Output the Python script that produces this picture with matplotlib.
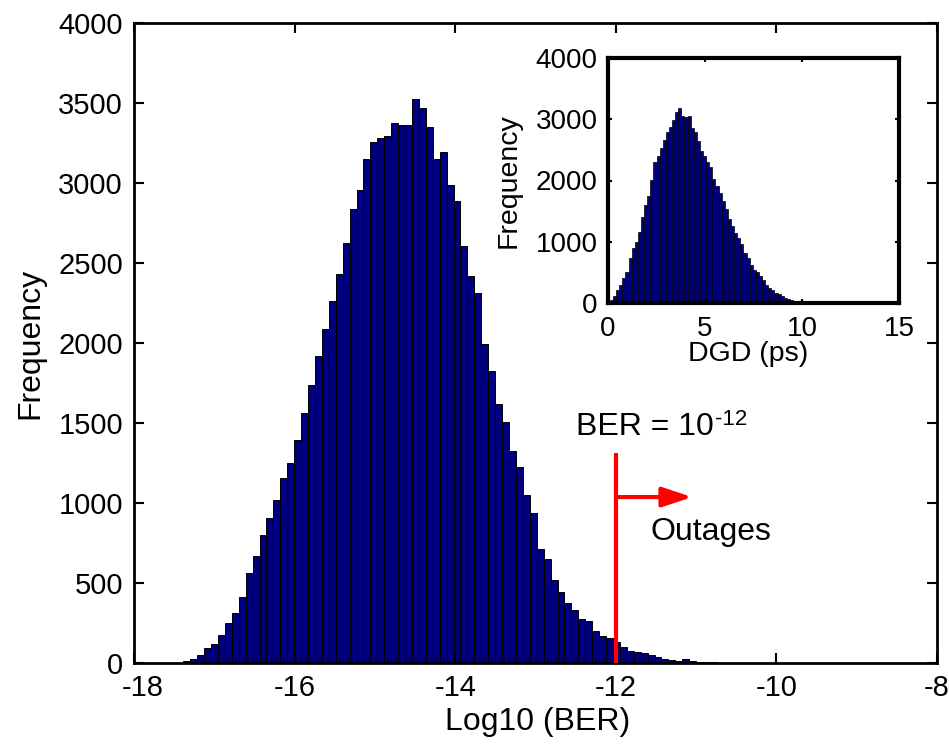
import numpy as np
import matplotlib
matplotlib.use("Agg")
import matplotlib.pyplot as plt
from matplotlib.transforms import ScaledTranslation

plt.rcParams['font.family'] = ['Liberation Sans', 'DejaVu Sans']
plt.rcParams['axes.unicode_minus'] = False

# ---- main histogram data: log10(BER) ----
ber_bin_start = -17.386
ber_bin_width = 0.0863
ber_counts = [12, 24, 50, 96, 118, 173, 248, 310, 413, 560,
              668, 800, 909, 1017, 1154, 1250, 1394, 1563, 1738, 1921,
              2087, 2260, 2433, 2625, 2839, 2957, 3147, 3257, 3284, 3293,
              3378, 3363, 3363, 3524, 3469, 3351, 3147, 3193, 2988, 2887,
              2608, 2418, 2310, 1993, 1825, 1620, 1505, 1325, 1226, 1048,
              935, 714, 647, 517, 442, 377, 329, 274, 260, 202,
              171, 154, 130, 100, 75, 70, 62, 52, 38, 27,
              18, 14, 26, 12, 8, 5, 4, 3, 2, 1]
main_xticks = [-18, -16, -14, -12, -10, -8]
main_yticks = [0, 500, 1000, 1500, 2000, 2500, 3000, 3500, 4000]

# ---- inset histogram data: DGD (ps) ----
dgd_bin_start = 0.1
dgd_bin_width = 0.16
dgd_counts = [44, 109, 208, 300, 404, 503, 738, 902, 994, 1158,
              1410, 1595, 1748, 2011, 2295, 2393, 2530, 2666, 2797, 2880,
              2994, 3125, 3191, 3060, 3043, 3060, 2863, 2787, 2650, 2481,
              2404, 2295, 2213, 2022, 1912, 1803, 1667, 1530, 1366, 1257,
              1147, 1065, 956, 820, 727, 628, 546, 503, 440, 370,
              300, 250, 210, 170, 140, 110, 85, 70, 50, 40,
              30, 22, 15, 10, 8, 5]
inset_xticks = [0, 5, 10, 15]
inset_yticks = [0, 1000, 2000, 3000, 4000]

threshold = -12
bar_color = '#00007f'

fig = plt.figure(figsize=(9.49, 7.45), dpi=100)
ax = fig.add_axes([134/949, 1 - 663/745, (937-134)/949, (663-23)/745])

ber_edges = ber_bin_start + ber_bin_width * np.arange(len(ber_counts))
ax.bar(ber_edges, ber_counts, width=ber_bin_width, align='edge',
       color=bar_color, edgecolor='black', linewidth=0.7)
ax.set_xlim(-18, -8)
ax.set_ylim(0, 4000)
ax.set_xticks(main_xticks)
ax.set_yticks(main_yticks)
ax.tick_params(direction='in', length=7, width=1.5, labelsize=21,
               top=True, right=True)
ax.tick_params(axis='x', pad=8)
ax.tick_params(axis='y', pad=8)
for s in ax.spines.values():
    s.set_linewidth(2)
ax.set_xlabel('Log10 (BER)', fontsize=23)
ax.set_ylabel('Frequency', fontsize=23)
ax.xaxis.set_label_coords(0.5025, -0.068)
ax.yaxis.set_label_coords(-0.110, 0.5)

# nudge the first x tick label so it does not collide with the "0" y label
first = ax.xaxis.get_major_ticks()[0].label1
first.set_transform(first.get_transform() + ScaledTranslation(6/72, 0, fig.dpi_scale_trans))

# threshold line and arrow
ax.plot([threshold, threshold], [0, 1312], color='red', lw=3, solid_capstyle='butt', zorder=5)
ax.annotate('', xy=(-11.05, 1037), xytext=(threshold, 1037),
            arrowprops=dict(arrowstyle='-|>,head_length=0.6,head_width=0.2',
                            color='red', lw=3, mutation_scale=30,
                            shrinkA=0, shrinkB=0), zorder=5)
t = ax.text(-12.496, 1425, 'BER = 10', fontsize=23, ha='left', va='baseline')
ax.annotate('-12', xy=(1, 1), xycoords=t, xytext=(1, 2), textcoords='offset points',
            fontsize=16, ha='left', va='top')
ax.text(-11.574, 769, 'Outages', fontsize=23, ha='left', va='baseline')

# inset
axi = fig.add_axes([608/949, 1 - 303/745, (899-608)/949, (303-58)/745])
dgd_edges = dgd_bin_start + dgd_bin_width * np.arange(len(dgd_counts))
axi.bar(dgd_edges, dgd_counts, width=dgd_bin_width, align='edge',
        color=bar_color, edgecolor='black', linewidth=0.5)
axi.set_xlim(0, 15)
axi.set_ylim(0, 4000)
axi.set_xticks(inset_xticks)
axi.set_yticks(inset_yticks)
axi.tick_params(direction='in', length=3, width=1.5, labelsize=20,
                top=True, right=True)
axi.tick_params(axis='x', pad=9)
axi.tick_params(axis='y', pad=7.5)
for s in axi.spines.values():
    s.set_linewidth(3)
axi.set_xlabel('DGD (ps)', fontsize=20.5)
axi.set_ylabel('Frequency', fontsize=20.5)
axi.xaxis.set_label_coords(0.481, -0.155)
axi.yaxis.set_label_coords(-0.2955, 0.5)

fig.savefig('out.png', dpi=100)
